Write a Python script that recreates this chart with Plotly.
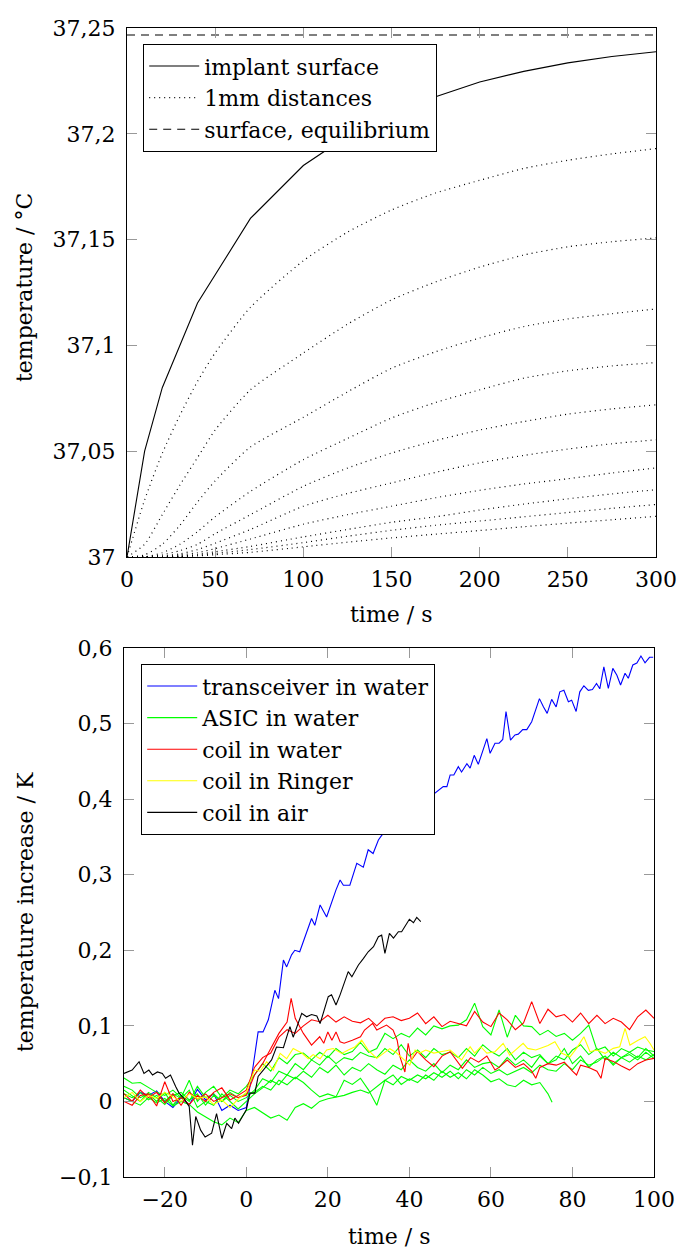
import plotly.graph_objects as go

FONT = "DejaVu Serif"
FS = 22
W, H = 680, 1250

# ---------------- top chart: implant surface heating ----------------
surf_t = [0, 10, 20, 40, 70, 100, 125, 150, 175, 200, 225, 250, 275, 300]
surf_v = [37.0, 37.05, 37.08, 37.12, 37.16, 37.185, 37.199, 37.2095, 37.2175,
          37.2245, 37.2295, 37.2335, 37.2365, 37.2388]
equil_t = [0, 300]
equil_v = [37.2467, 37.2467]

dist_t = [0, 10, 20, 30, 40, 50, 70, 100, 125, 150, 175, 200, 225, 250, 275, 300]
dist_1 = [37.0, 37.027, 37.049, 37.067, 37.083, 37.0965, 37.118, 37.140, 37.1535, 37.164, 37.172, 37.178, 37.1836, 37.1875, 37.1905, 37.1930]
dist_2 = [37.0, 37.006, 37.020, 37.034, 37.047, 37.060, 37.079, 37.0964, 37.110, 37.1215, 37.130, 37.137, 37.1427, 37.1466, 37.149, 37.1508]
dist_3 = [37.0, 37.001, 37.006, 37.015, 37.026, 37.036, 37.052, 37.066, 37.078, 37.0892, 37.097, 37.1035, 37.1089, 37.1125, 37.115, 37.1172]
dist_4 = [37.0, 37.0, 37.002, 37.006, 37.012, 37.019, 37.031, 37.046, 37.056, 37.0657, 37.073, 37.079, 37.0845, 37.088, 37.0903, 37.0919]
dist_5 = [37.0, 37.0, 37.001, 37.003, 37.006, 37.011, 37.020, 37.0334, 37.042, 37.0491, 37.055, 37.060, 37.064, 37.0675, 37.070, 37.0719]
dist_6 = [37.0, 37.0, 37.0005, 37.0015, 37.0035, 37.0065, 37.013, 37.024, 37.030, 37.035, 37.040, 37.0445, 37.048, 37.051, 37.0535, 37.0554]
dist_7 = [37.0, 37.0, 37.0, 37.001, 37.002, 37.004, 37.0085, 37.0155, 37.020, 37.024, 37.028, 37.0315, 37.0345, 37.037, 37.0397, 37.0421]
dist_8 = [37.0, 37.0, 37.0, 37.0005, 37.0012, 37.0025, 37.005, 37.0095, 37.013, 37.0164, 37.019, 37.0222, 37.025, 37.0275, 37.0298, 37.0318]
dist_9 = [37.0, 37.0, 37.0, 37.0003, 37.0008, 37.0017, 37.0035, 37.0068, 37.0098, 37.0126, 37.015, 37.017, 37.019, 37.021, 37.023, 37.0248]
dist_10 = [37.0, 37.0, 37.0, 37.0002, 37.0005, 37.0011, 37.0022, 37.0048, 37.0070, 37.009, 37.0108, 37.0125, 37.0143, 37.016, 37.0176, 37.0192]
dist_curves = [dist_1, dist_2, dist_3, dist_4, dist_5, dist_6, dist_7, dist_8, dist_9, dist_10]

top_xticks = [0, 50, 100, 150, 200, 250, 300]
top_yticks = [37.0, 37.05, 37.1, 37.15, 37.2, 37.25]
top_yticktext = ["37", "37,05", "37,1", "37,15", "37,2", "37,25"]

# ---------------- bottom chart: measured temperature increase ----------------
blue_t = [-30, -28, -26, -24, -22, -20, -18, -16, -14, -12, -10, -8, -6, -4, -2, 0,
          1.3, 2.9, 4.1, 5.4, 7, 7.9, 9.1, 9.9, 11.1, 11.9, 13.1, 14.5, 16, 16.8, 18.1, 19.7,
          21, 22, 23, 23.8, 25.4, 27.1, 28.7, 29.9, 31.1, 32.4, 33.2,
          48.3, 49.2, 50, 50.9, 52, 52.8, 54.1, 54.9, 55.9, 56.9, 59, 59.8, 61, 62, 62.9, 63.7,
          64.8, 65.9, 66.7, 67.8, 68.8, 70, 71.9, 72.9, 73.8, 74.9, 76, 76.9, 77.9, 79, 79.8,
          80.9, 81.8, 82.8, 83.9, 84.9, 85.9, 86.7, 87.7, 88.8, 89.9, 90.9, 91.8, 92.9, 93.7,
          94.8, 95.8, 96.8, 97.8, 98.9, 99.8]
blue_v = [0.005, 0.0, 0.012, 0.008, 0.014, 0.0, -0.008, 0.005, -0.005, 0.016, 0.002, 0.01, -0.012, -0.005, -0.012, -0.008,
          0.033, 0.092, 0.092, 0.108, 0.147, 0.136, 0.187, 0.178, 0.194, 0.2, 0.198, 0.22, 0.242, 0.233, 0.26, 0.244,
          0.265, 0.28, 0.293, 0.286, 0.286, 0.315, 0.31, 0.333, 0.328, 0.346, 0.352,
          0.4165, 0.4165, 0.432, 0.432, 0.443, 0.436, 0.447, 0.441, 0.458, 0.446, 0.480, 0.4606, 0.474, 0.474, 0.479, 0.516,
          0.478, 0.485, 0.486, 0.492, 0.492, 0.5025, 0.533, 0.522, 0.5135, 0.532, 0.522, 0.542, 0.544, 0.529, 0.531,
          0.516, 0.542, 0.550, 0.544, 0.545, 0.553, 0.546, 0.575, 0.5466, 0.573, 0.564, 0.551, 0.5665, 0.560,
          0.5775, 0.580, 0.5894, 0.5805, 0.5877, 0.5877]

grid2 = list(range(-30, 101, 2))

green_1 = [0.031, 0.024, 0.025, 0.018, 0.012, 0.008, 0.015, 0.005, 0.028, 0.0, 0.012, 0.02, 0.005, 0.015, 0.01, 0.02,
           0.035, 0.05, 0.04, 0.058, 0.05, 0.062, 0.064, 0.055, 0.065, 0.058, 0.07, 0.062, 0.066, 0.078, 0.065, 0.07,
           0.09, 0.083, 0.09, 0.085, 0.097, 0.088, 0.1, 0.096, 0.1, 0.101, 0.108, 0.13, 0.099, 0.088, 0.121, 0.085,
           0.114, 0.1, 0.099, 0.088, 0.094, 0.086, 0.09, 0.081, 0.09, 0.101, 0.068, 0.072, 0.06, 0.07, 0.065, 0.072,
           0.068, 0.066]
green_2 = [0.02, 0.015, 0.005, 0.01, 0.0, 0.012, -0.005, 0.008, 0.0, 0.02, 0.005, 0.01, 0.0, 0.008, 0.0, 0.005,
           0.015, 0.03, 0.025, 0.04, 0.035, 0.05, 0.042, 0.055, 0.048, 0.06, 0.05, 0.058, 0.055, 0.065, 0.06, 0.058,
           0.07, 0.062, 0.075, 0.06, 0.068, 0.058, 0.07, 0.062, 0.065, 0.058, 0.07, 0.06, 0.075, 0.066, 0.06, 0.07,
           0.055, 0.065, 0.058, 0.062, 0.05, 0.06, 0.055, 0.068, 0.075, 0.062, 0.07, 0.055, 0.065, 0.058, 0.062, 0.055,
           0.065, 0.057]
green_3 = [0.01, 0.005, 0.012, 0.002, 0.008, 0.0, 0.01, 0.004, 0.015, -0.008, 0.0, -0.005, 0.01, 0.0, -0.01, 0.0,
           0.01, 0.018, 0.028, 0.022, 0.035, 0.03, 0.04, 0.032, 0.045, 0.038, 0.048, 0.035, 0.045, 0.04, 0.05, 0.042,
           0.036, 0.048, 0.042, 0.055, 0.045, 0.04, 0.05, 0.038, 0.048, 0.042, 0.055, 0.045, 0.05, 0.052, 0.045, 0.058,
           0.048, 0.055, 0.045, 0.06, 0.05, 0.055, 0.07, 0.05, 0.06, 0.045, 0.055, 0.06, 0.048, 0.058, 0.065, 0.058,
           0.07, 0.06]
green_4 = [0.005, 0.0, -0.005, 0.005, -0.002, 0.004, -0.006, 0.0, -0.004, -0.014, -0.02, -0.027, -0.031, -0.022, -0.028, -0.012,
           -0.008, -0.015, -0.022, -0.018, -0.025, -0.008, -0.003, -0.009, 0.0, 0.0035, 0.006, 0.008, 0.012, 0.015, 0.011, 0.02,
           0.028, 0.022, 0.033, 0.028, 0.035, 0.03, 0.038, 0.032, 0.04, 0.03, 0.042, 0.035, 0.045, 0.037, 0.042, 0.035,
           0.04, 0.045, 0.038, 0.048, 0.042, 0.04, 0.05, 0.042, 0.055, 0.048, 0.052, 0.06, 0.05, 0.058, 0.052, 0.06,
           0.055, 0.062]
green_5_t = list(range(-30, 75, 2)) + [75]
green_5 = [0.015, 0.008, 0.0, 0.012, 0.005, -0.004, 0.008, 0.012, 0.002, 0.01, -0.005, 0.008, 0.0, 0.012, 0.005, 0.01,
           0.012, 0.02, 0.015, 0.028, 0.022, 0.032, 0.025, 0.015, 0.006, 0.01, 0.006, 0.028, 0.0225, 0.0306, 0.015, -0.005,
           0.028, 0.035, 0.0225, 0.03, 0.025, 0.035, 0.028, 0.04, 0.032, 0.038, 0.03, 0.042, 0.035, 0.026, 0.03, 0.022,
           0.0195, 0.028, 0.022, 0.025, 0.01, -0.001]

red_1 = [0.0, -0.005, 0.008, 0.01, -0.006, 0.026, 0.0, 0.005, -0.004, 0.008, 0.0, 0.012, 0.018, 0.002, 0.008, 0.015,
         0.045, 0.058, 0.064, 0.085, 0.095, 0.09, 0.1, 0.108, 0.1055, 0.114, 0.105, 0.112, 0.106, 0.104, 0.11, 0.1,
         0.11, 0.112, 0.107, 0.11, 0.117, 0.103, 0.112, 0.099, 0.106, 0.103, 0.1, 0.119, 0.105, 0.099, 0.117, 0.108,
         0.095, 0.104, 0.132, 0.103, 0.122, 0.112, 0.115, 0.105, 0.117, 0.103, 0.114, 0.103, 0.11, 0.105, 0.095, 0.112,
         0.121, 0.11]
red_2_t = [-30, -28, -26, -24, -22, -20, -18, -16, -14, -12, -10, -8, -6, -4, -2, 0,
           2, 4, 6, 8, 10, 11, 12, 14, 16, 18, 19, 20, 21, 22, 23, 24, 26, 28, 29, 31, 32, 33, 34.4, 36, 37,
           37.7, 38.9, 39.7, 40.5, 42, 44, 46, 48, 50, 52, 53, 55, 57, 59, 61, 62, 64, 66, 68, 70, 71, 72,
           74, 76, 78, 80, 81, 82, 84, 86, 87, 88, 90, 92, 94, 96, 98, 100]
red_2 = [0.01, 0.0, 0.015, 0.005, 0.012, -0.002, 0.01, -0.005, 0.012, 0.003, 0.01, 0.0, 0.005, 0.01, 0.005, 0.008,
         0.035, 0.05, 0.07, 0.09, 0.105, 0.1365, 0.11, 0.09, 0.0746, 0.0856, 0.077, 0.092, 0.081, 0.092, 0.079, 0.077,
         0.081, 0.0856, 0.0945, 0.1033, 0.0945, 0.097, 0.101, 0.0945, 0.081,
         0.059, 0.039, 0.077, 0.0548, 0.066, 0.055, 0.046, 0.06, 0.0658, 0.05, 0.0438, 0.058, 0.052, 0.06, 0.0415,
         0.045, 0.0548, 0.045, 0.05, 0.04, 0.0306, 0.045,
         0.05, 0.048, 0.052, 0.04, 0.035, 0.048, 0.045, 0.04, 0.0306, 0.0568, 0.053, 0.047, 0.0415, 0.05, 0.0548, 0.057]

yellow_t = [-30, -28, -26, -24, -22, -20, -18, -16, -14, -12, -10, -8, -6, -4, -2, 0,
            2, 3.4, 5, 6.6, 8.3, 9.9, 11.5, 13.6, 15.2, 16.4, 18.1, 19.7, 21.3, 23.4, 25, 26.7, 28.3, 29.9,
            32, 33.6, 35.2, 36.9, 38.9, 40.1, 41.4, 42.6, 44, 46, 48, 50, 52.8, 54.9, 56, 57.5, 59, 61, 63,
            64.6, 66, 67.9, 69, 71, 73, 74, 75.7, 77.4, 79.4, 81, 82.8, 84.3, 86, 88, 90, 91.6, 92.9, 94.1,
            96.1, 97.8, 99, 100]
yellow_v = [0.005, 0.012, 0.0, 0.008, 0.004, 0.012, 0.006, 0.0, 0.01, 0.004, 0.006, -0.004, 0.002, -0.008, 0.003, 0.012,
            0.0415, 0.04, 0.0525, 0.0415, 0.0636, 0.0565, 0.07, 0.064, 0.0565, 0.062, 0.0565, 0.068, 0.07, 0.0636, 0.068,
            0.0724, 0.081, 0.068,
            0.057, 0.064, 0.0698, 0.064, 0.0548, 0.048, 0.068, 0.064, 0.068, 0.064, 0.066, 0.068, 0.0548, 0.0724, 0.064,
            0.0724, 0.064, 0.0658, 0.0769,
            0.0614, 0.068, 0.0769, 0.0702, 0.068, 0.072, 0.074, 0.079, 0.0636, 0.059, 0.0702, 0.0856, 0.0658, 0.068,
            0.0636, 0.0702, 0.0724, 0.0967, 0.0746,
            0.081, 0.0856, 0.077, 0.068]

black_t = [-30, -28, -26.3, -25.1, -23.9, -23, -21.8, -20.6, -19.8, -18.6, -17.3, -16.5, -15.3, -14, -13.2, -12.4,
           -11.2, -10.1, -8.5, -7.3, -6, -4.8, -3.6, -2.8, -1.9, 0, 0.9, 2.1, 2.9, 4.6, 6.2, 7.4, 9.1, 10.7, 11.5,
           13.6, 14.8, 16, 17.3, 18.1, 18.9, 20.1, 20.9, 22, 23, 25, 25.9, 27.5, 28.7, 29.9, 31.2, 32.4, 33.2, 34,
           35.1, 36.1, 37.3, 38.1, 40, 41, 41.8, 42.8]
black_v = [0.037, 0.0415, 0.0525, 0.037, 0.0415, 0.035, 0.039, 0.037, 0.0306, 0.035, 0.0195, 0.011, 0.004, -0.007, -0.058, -0.02,
           -0.038, -0.047, -0.042, -0.016, -0.049, -0.029, -0.036, -0.022, -0.029, -0.011, 0.011, 0.011, 0.033, 0.044, 0.055,
           0.072, 0.071, 0.099, 0.085,
           0.1166, 0.112, 0.115, 0.113, 0.103, 0.118, 0.1386, 0.141, 0.1276, 0.141, 0.1717, 0.165, 0.1805, 0.189, 0.198,
           0.2047, 0.218, 0.22, 0.196,
           0.2225, 0.216, 0.2246, 0.2246, 0.241, 0.2365, 0.2436, 0.2378]

bot_xticks = [-20, 0, 20, 40, 60, 80, 100]
bot_xticktext = ["\u221220", "0", "20", "40", "60", "80", "100"]
bot_yticks = [-0.1, 0.0, 0.1, 0.2, 0.3, 0.4, 0.5, 0.6]
bot_yticktext = ["\u22120,1", "0", "0,1", "0,2", "0,3", "0,4", "0,5", "0,6"]

# ---------------- figure ----------------
fig = go.Figure()
LW = 1.1

fig.add_trace(go.Scatter(x=surf_t, y=surf_v, mode="lines", name="implant surface",
                         line=dict(color="black", width=LW), xaxis="x", yaxis="y", legend="legend"))
for i, d in enumerate(dist_curves):
    fig.add_trace(go.Scatter(x=dist_t, y=d, mode="lines", name="1mm distances",
                             legendgroup="dist", showlegend=(i == 0),
                             line=dict(color="black", width=1.2, dash="1px,4px", shape="spline", smoothing=0.6),
                             xaxis="x", yaxis="y", legend="legend"))
fig.add_trace(go.Scatter(x=equil_t, y=equil_v, mode="lines", name="surface, equilibrium",
                         line=dict(color="black", width=LW, dash="8px,6px"), xaxis="x", yaxis="y", legend="legend"))

fig.add_trace(go.Scatter(x=blue_t, y=blue_v, mode="lines", name="transceiver in water",
                         line=dict(color="#0000ff", width=LW), xaxis="x2", yaxis="y2", legend="legend2"))
greens = [(grid2, green_1), (grid2, green_2), (grid2, green_3), (grid2, green_4), (green_5_t, green_5)]
for i, (gt, gv) in enumerate(greens):
    fig.add_trace(go.Scatter(x=gt, y=gv, mode="lines", name="ASIC in water", legendgroup="asic",
                             showlegend=(i == 0), line=dict(color="#00ff00", width=LW),
                             xaxis="x2", yaxis="y2", legend="legend2"))
reds = [(grid2, red_1), (red_2_t, red_2)]
for i, (rt, rv) in enumerate(reds):
    fig.add_trace(go.Scatter(x=rt, y=rv, mode="lines", name="coil in water", legendgroup="coil",
                             showlegend=(i == 0), line=dict(color="#ff0000", width=LW),
                             xaxis="x2", yaxis="y2", legend="legend2"))
fig.add_trace(go.Scatter(x=yellow_t, y=yellow_v, mode="lines", name="coil in Ringer",
                         line=dict(color="#ffff00", width=LW), xaxis="x2", yaxis="y2", legend="legend2"))
fig.add_trace(go.Scatter(x=black_t, y=black_v, mode="lines", name="coil in air",
                         line=dict(color="black", width=LW), xaxis="x2", yaxis="y2", legend="legend2"))

tickfont = dict(family=FONT, size=FS, color="black")
axis_common = dict(showline=True, linecolor="black", linewidth=1.2, mirror="ticks",
                   ticks="inside", ticklen=10, tickwidth=1.2, tickcolor="#999999",
                   showgrid=False, zeroline=False, tickfont=tickfont, automargin=False)


def px_x(p):
    return p / W


def px_y(p):
    return 1 - p / H


legend_common = dict(xanchor="left", yanchor="top", bordercolor="black", borderwidth=1.2,
                     bgcolor="white", font=dict(family=FONT, size=FS, color="black"),
                     tracegroupgap=0, traceorder="normal", itemwidth=50)

fig.update_layout(
    width=W, height=H, margin=dict(l=0, r=0, t=0, b=0),
    paper_bgcolor="white", plot_bgcolor="white",
    font=dict(family=FONT, size=FS, color="black"),
    xaxis=dict(domain=[px_x(127), px_x(656)], anchor="y", range=[0, 300],
               tickvals=top_xticks, ticklabelstandoff=2, **axis_common),
    yaxis=dict(domain=[px_y(557), px_y(28)], anchor="x", range=[37.0, 37.25],
               tickvals=top_yticks, ticktext=top_yticktext, ticklabelstandoff=6, **axis_common),
    xaxis2=dict(domain=[px_x(124), px_x(654)], anchor="y2", range=[-30, 100],
                tickvals=bot_xticks, ticktext=bot_xticktext, ticklabelstandoff=2, **axis_common),
    yaxis2=dict(domain=[px_y(1177), px_y(648)], anchor="x2", range=[-0.1, 0.6],
                tickvals=bot_yticks, ticktext=bot_yticktext, ticklabelstandoff=6, **axis_common),
    legend=dict(x=px_x(143), y=px_y(44), **legend_common),
    legend2=dict(x=px_x(141), y=px_y(664), **legend_common),
    showlegend=True,
)

titles = [
    ("temperature / \u00b0C", 25, 288, -90),
    ("time / s", 391, 614, 0),
    ("temperature increase / K", 25, 912, -90),
    ("time / s", 389, 1236, 0),
]
for text, x, y, ang in titles:
    fig.add_annotation(text=text, x=px_x(x), y=px_y(y), xref="paper", yref="paper",
                       showarrow=False, textangle=ang, xanchor="center", yanchor="middle",
                       font=dict(family=FONT, size=FS, color="black"))

fig.write_html("out.html", config={"displayModeBar": False},
               post_script="document.body.style.margin='0px';document.body.style.overflow='hidden';")
